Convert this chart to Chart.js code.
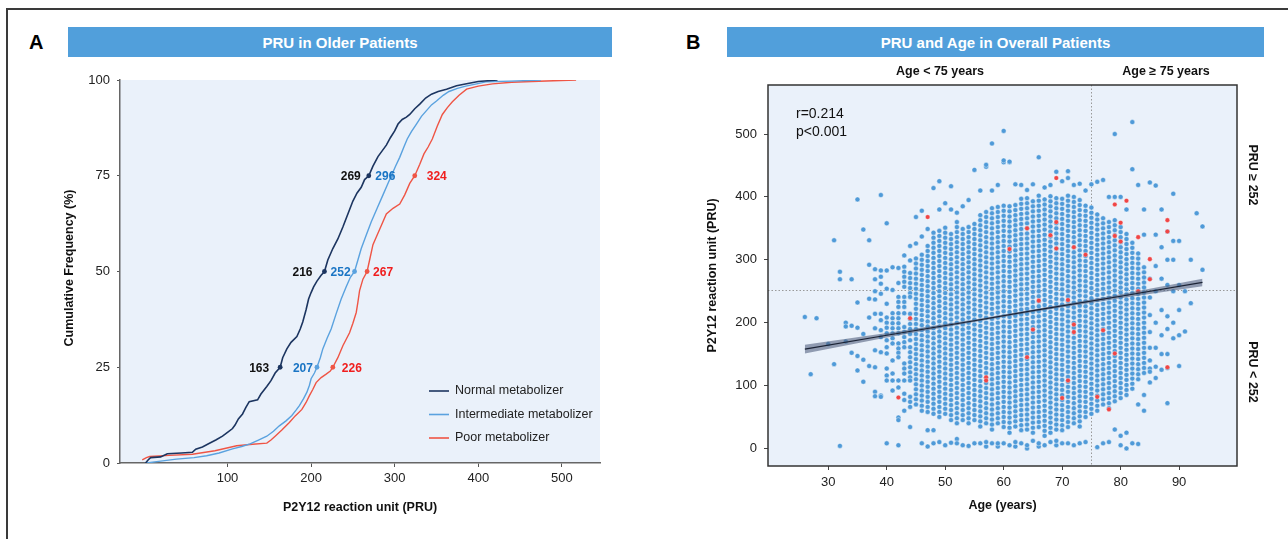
<!DOCTYPE html>
<html>
<head>
<meta charset="utf-8">
<script src="https://cdn.jsdelivr.net/npm/chart.js@4.4.1/dist/chart.umd.min.js"></script>
<style>
  body { margin: 0; background: #fff; font-family: "Liberation Sans", Arial, sans-serif; }
  #page { position: relative; width: 1288px; height: 539px; overflow: hidden; background: #fff; }
  .frameTop { position: absolute; left: 6px; top: 8px; width: 1282px; height: 2px; background: #3a3a3a; }
  .frameLeft { position: absolute; left: 6px; top: 8px; width: 2px; height: 531px; background: #3a3a3a; }
  .bar { position: absolute; top: 27px; height: 30px; background: #519FDB; color: #fff; font-weight: bold;
         font-size: 15px; line-height: 31px; text-align: center; }
  .letter { position: absolute; top: 31px; font-weight: bold; font-size: 20px; color: #000; }
  canvas { position: absolute; top: 0; }
</style>
</head>
<body>
<div id="page">
  <div class="frameTop"></div>
  <div class="frameLeft"></div>
  <div class="letter" style="left:29px">A</div>
  <div class="bar" style="left:68px;width:544px">PRU in Older Patients</div>
  <div class="letter" style="left:686px">B</div>
  <div class="bar" style="left:727px;width:537px">PRU and Age in Overall Patients</div>
  <canvas id="chartA" width="640" height="539" style="left:0"></canvas>
  <canvas id="chartB" width="648" height="539" style="left:640px"></canvas>
</div>
<script>
// ---------- Panel A: cumulative frequency of PRU (older patients) ----------
const normalPru = [2, 5, 8, 20, 28, 45, 58, 62, 70, 79, 86, 94, 100, 106, 109, 113, 118, 122, 126, 136, 140, 147, 152, 157, 163, 166, 171, 176, 183, 187, 190, 194, 197, 200, 203, 207, 212, 216, 220, 226, 232, 238, 244, 250, 255, 260, 264, 269, 274, 280, 285, 290, 295, 300, 304, 309, 314, 318, 324, 330, 337, 344, 352, 362, 374, 386, 400, 423];
const normalPct = [0, 0.8, 1.4, 1.6, 2.4, 2.6, 2.8, 3.6, 4.2, 5.2, 6, 7, 8, 9, 9.9, 11.5, 12.8, 14.5, 16, 16.5, 18, 20, 21.5, 23.5, 25, 27.5, 29.8, 31.5, 33, 35, 36.8, 40, 42.8, 44.5, 46, 47.5, 49, 50, 53, 56, 58.5, 61.6, 65, 68.4, 70.5, 72, 74, 75, 77.5, 80, 81.5, 83, 85, 86.7, 88.5, 89.7, 90.3, 91, 92.5, 93.7, 95.3, 96.3, 97, 97.6, 98.5, 99, 99.6, 100];
const intermPru = [3, 20, 39, 60, 75, 90, 106, 117, 127, 137, 147, 155, 162, 170, 177, 182, 186, 191, 195, 198, 200, 204, 207, 211, 214, 219, 224, 230, 236, 242, 247, 252, 256, 260, 266, 272, 279, 286, 291, 296, 301, 306, 311, 315, 320, 326, 332, 338, 344, 350, 358, 365, 375, 385, 398, 409, 440, 475];
const intermPct = [0, 0.5, 1, 1.4, 1.9, 2.6, 3.7, 4.3, 5, 6, 7, 8.3, 9.7, 11, 12.4, 13.8, 15, 16.8, 18.5, 20.3, 22, 23.5, 25, 27.5, 29.8, 32.5, 35, 39, 42.8, 46, 48.5, 50, 53, 56, 59.5, 63, 66.5, 70, 72.5, 75, 77.5, 79.8, 82.5, 84.6, 86.5, 88.5, 90.5, 92, 93.5, 94.5, 96, 97, 97.8, 98.4, 99, 99.5, 99.7, 100];
const poorPru = [-2, 3, 7, 30, 58, 85, 111, 130, 147, 152, 157, 165, 174, 181, 189, 194, 198, 202, 206, 212, 218, 223, 226, 232, 238, 242, 246, 250, 254, 256, 258, 262, 267, 270, 274, 278, 284, 290, 298, 306, 312, 318, 324, 330, 335, 340, 345, 351, 357, 363, 369, 377, 386, 400, 417, 440, 464, 490, 517];
const poorPct = [0.8, 1.4, 1.7, 2, 2.3, 3.2, 4.5, 4.9, 5.2, 6, 7, 8.6, 10.6, 12.3, 14, 15.8, 17.6, 19.2, 21, 22.3, 23.2, 24, 25, 27.5, 30.6, 32.3, 34, 36.5, 39.3, 42, 45, 48, 50, 53, 57, 59, 62, 65, 66.5, 67.6, 70, 73, 75, 78, 80.7, 82.5, 84.6, 88, 91, 92.8, 94.3, 96, 97.6, 98.4, 99, 99.4, 99.6, 99.8, 100];

const quartilePct = [25, 50, 75];
const normalQuartiles = [163, 216, 269];
const intermQuartiles = [207, 252, 296];
const poorQuartiles = [226, 267, 324];

const freqTicks = [0, 25, 50, 75, 100];
const pruAxisTicks = [100, 200, 300, 400, 500];
const groupNames = ['Normal metabolizer', 'Intermediate metabolizer', 'Poor metabolizer'];

// ---------- Panel B: PRU by age, all patients ----------
const ageTicks = [30, 40, 50, 60, 70, 80, 90];
const pruTicks = [0, 100, 200, 300, 400, 500];
const ageCut = 75;
const pruCut = 252;

const scatterAges = [26, 27, 28, 30, 31, 32, 33, 34, 35, 36, 37, 38, 39, 40, 41, 42, 43, 44, 45, 46, 47, 48, 49, 50,
  51, 52, 53, 54, 55, 56, 57, 58, 59, 60, 61, 62, 63, 64, 65, 66, 67, 68, 69, 70, 71, 72, 73, 74, 75, 76, 77, 78,
  79, 80, 81, 82, 83, 84, 85, 86, 87, 88, 89, 90, 91, 92, 93, 94];
const scatterPru = [
  "209",
  "118",
  "207",
  "166",
  "331 134",
  "281 269 4",
  "200 194 170",
  "269 195 152",
  "396 232 192 147 124",
  "348 182 141 106",
  "331 292 238 208 131",
  "285 269 250 237 214 191 156 129 90 83",
  "403 283 273 262 246 214 204 188 177 153 84 82",
  "358 283 254 230 208 200 192 183 172 161 151 127 116 108 8",
  "288 252 215 207 199 191 183 175 167 140 119 108 92",
  "287 263 241 233 225 215 207 199 191 183 167 159 152 145 108 97 49 45 5",
  "307 289 281 273 265 257 241 233 225 215 193 185 177 169 161 135 127 119 108 87 77 60",
  "322 299 279 271 263 255 247 241 214 206 198 190 182 172 161 153 145 137 129 121 113 108 82 74 66 34",
  "368 326 302 294 286 278 270 262 254 246 238 230 222 214 206 198 190 182 174 166 158 150 142 134 126 118 110 102 94 86 78 70",
  "378 337 308 300 292 284 276 268 260 252 244 236 228 220 212 204 196 188 180 172 164 156 148 140 132 124 116 108 100 92 84 76 68 60 8",
  "349 322 314 306 298 290 282 274 266 258 250 242 234 226 218 210 202 194 186 178 170 162 154 146 138 130 122 114 106 98 90 82 74 66 58 29 3",
  "414 343 335 327 319 311 303 295 287 279 271 263 255 247 239 231 223 215 207 199 191 183 175 167 159 151 143 135 127 119 111 103 95 87 79 71 63 55 29 8",
  "425 380 346 338 330 322 314 306 298 290 282 274 266 258 250 242 234 226 218 210 202 194 186 178 170 162 154 146 138 130 122 114 106 98 90 82 74 66 58 50 10",
  "390 351 343 335 327 319 311 303 295 287 279 271 263 255 247 239 231 223 215 207 199 191 183 175 167 159 151 143 135 127 119 111 103 95 87 79 71 63 55 5",
  "417 380 341 333 325 317 309 301 293 285 277 269 261 253 245 237 229 221 213 205 197 189 181 173 165 157 149 141 133 125 117 109 101 93 85 77 69 61 53 45 9",
  "375 360 352 344 336 328 320 312 304 296 288 280 272 264 256 248 240 232 224 216 208 200 192 184 176 168 160 152 144 136 128 120 112 104 96 88 80 72 64 56 48 40 15 8",
  "385 349 341 333 325 317 309 301 293 285 277 269 261 253 245 237 229 221 213 205 197 189 181 173 165 157 149 141 133 125 117 109 101 93 85 77 69 61 53 45 5",
  "4 40 48 56 64 72 80 88 96 104 112 120 128 136 144 152 160 168 176 184 192 200 208 216 224 232 240 248 256 264 272 280 288 296 304 312 320 328 336 344 352 395",
  "8 45 53 61 69 77 85 93 101 109 117 125 133 141 149 157 165 173 181 189 197 205 213 221 229 237 245 253 261 269 277 285 293 301 309 317 325 333 341 349 357 443",
  "8 35 43 51 59 67 75 83 91 99 107 115 123 131 139 147 155 163 171 179 187 195 203 211 219 227 235 243 251 259 267 275 283 291 299 307 315 323 331 339 347 355 363 371 410",
  "3 10 40 48 56 64 72 80 88 96 104 112 120 128 136 144 152 160 168 176 184 192 200 208 216 224 232 240 248 256 264 272 280 288 296 304 312 320 328 336 344 352 360 368 376 448 451",
  "8 30 38 46 54 62 70 78 86 94 102 110 118 126 134 142 150 158 166 174 182 190 198 206 214 222 230 238 246 254 262 270 278 286 294 302 310 318 326 334 342 350 358 366 374 382 410 485",
  "3 8 40 48 56 64 72 80 88 96 104 112 120 128 136 144 152 160 168 176 184 192 200 208 216 224 232 240 248 256 264 272 280 288 296 304 312 320 328 336 344 352 360 368 376 384 419",
  "8 34 42 50 58 66 74 82 90 98 106 114 122 130 138 146 154 162 170 178 186 194 202 210 218 226 234 242 250 258 266 274 282 290 298 306 314 322 330 338 346 354 362 370 378 386 455 458 505",
  "5 25 33 41 49 57 65 73 81 89 97 105 113 121 129 137 145 153 161 169 177 185 193 201 209 217 225 233 241 249 257 265 273 281 289 297 305 313 321 329 337 345 353 361 369 377 385 455 456",
  "3 10 35 43 51 59 67 75 83 91 99 107 115 123 131 139 147 155 163 171 179 187 195 203 211 219 227 235 243 251 259 267 275 283 291 299 307 315 323 331 339 347 355 363 371 379 387 420",
  "8 29 37 45 53 61 69 77 85 93 101 109 117 125 133 141 149 157 165 173 181 189 197 205 213 221 229 237 245 253 261 269 277 285 293 301 309 317 325 333 341 349 357 365 373 381 389 397 419",
  "0 5 30 38 46 54 62 70 78 86 94 102 110 118 126 134 142 150 158 166 174 182 190 198 206 214 222 230 238 246 254 262 270 278 286 294 302 310 318 326 334 342 350 358 366 374 382 390 398 411",
  "12 25 33 41 49 57 65 73 81 89 97 105 113 121 129 137 145 153 161 169 177 185 193 201 209 217 225 233 241 249 257 265 273 281 289 297 305 313 321 329 337 345 353 361 369 377 385 393 420",
  "3 8 34 42 50 58 66 74 82 90 98 106 114 122 130 138 146 154 162 170 178 186 194 202 210 218 226 234 242 250 258 266 274 282 290 298 306 314 322 330 338 346 354 362 370 378 386 394 402 463",
  "5 20 28 36 44 52 60 68 76 84 92 100 108 116 124 132 140 148 156 164 172 180 188 196 204 212 220 228 236 244 252 260 268 276 284 292 300 308 316 324 332 340 348 356 364 372 380 388 396 415",
  "10 25 33 41 49 57 65 73 81 89 97 105 113 121 129 137 145 153 161 169 177 185 193 201 209 217 225 233 241 249 257 265 273 281 289 297 305 313 321 329 337 345 353 361 369 377 385 393 401 419",
  "5 12 30 38 46 54 62 70 78 86 94 102 110 118 126 134 142 150 158 166 174 182 190 198 206 214 222 230 238 246 254 262 270 278 286 294 302 310 318 326 334 342 350 358 366 374 382 390 398 440",
  "8 29 37 45 53 61 69 77 85 93 101 109 117 125 133 141 149 157 165 173 181 189 197 205 213 221 229 237 245 253 261 269 277 285 293 301 309 317 325 333 341 349 357 365 373 381 389 397 425",
  "8 34 42 50 58 66 74 82 90 98 106 114 122 130 138 146 154 162 170 178 186 194 202 210 218 226 234 242 250 258 266 274 282 290 298 306 314 322 330 338 346 354 362 370 378 386 394 402 430 441",
  "5 40 48 56 64 72 80 88 96 104 112 120 128 136 144 152 160 168 176 184 192 200 208 216 224 232 240 248 256 264 272 280 288 296 304 312 320 328 336 344 352 360 368 376 384 392 400 419",
  "8 35 43 51 59 67 75 83 91 99 107 115 123 131 139 147 155 163 171 179 187 195 203 211 219 227 235 243 251 259 267 275 283 291 299 307 315 323 331 339 347 355 363 371 379 387 395 421",
  "10 50 58 66 74 82 90 98 106 114 122 130 138 146 154 162 170 178 186 194 202 210 218 226 234 242 250 258 266 274 282 290 298 306 314 322 330 338 346 354 362 370 378 386 410",
  "55 63 71 79 87 95 103 111 119 127 135 143 151 159 167 175 183 191 199 207 215 223 231 239 247 255 263 271 279 287 295 303 311 319 327 335 343 351 359 367 375 383 420",
  "2 60 68 76 84 92 100 108 116 124 132 140 148 156 164 172 180 188 196 204 212 220 228 236 244 252 260 268 276 284 292 300 308 316 324 332 340 348 356 364 372 424",
  "8 70 78 86 94 102 110 118 126 134 142 150 158 166 174 182 190 198 206 214 222 230 238 246 254 262 270 278 286 294 302 310 318 326 334 342 350 358 366 427",
  "10 64 72 80 88 96 104 112 120 128 136 144 152 160 168 176 184 192 200 208 216 224 232 240 248 256 264 272 280 288 296 304 312 320 328 336 344 352 360 400",
  "30 75 83 91 99 107 115 123 131 139 147 155 163 171 179 187 195 203 211 219 227 235 243 251 259 267 275 283 291 299 307 315 323 331 339 347 355 363 400 500",
  "5 20 80 88 96 104 112 120 128 136 144 152 160 168 176 184 192 200 208 216 224 232 240 248 256 264 272 280 288 296 304 312 320 328 336 344 352 400",
  "0 25 85 93 101 109 117 125 133 141 149 157 165 173 181 189 197 205 213 221 229 237 245 253 261 269 277 285 293 301 309 317 325 333 341 380",
  "8 95 103 111 119 127 135 143 151 159 167 175 183 191 199 207 215 223 231 239 247 255 263 271 279 287 295 303 311 319 327 444 519",
  "7 70 110 118 126 134 142 150 158 166 174 182 190 198 206 214 222 230 238 246 254 262 270 278 286 294 302 310 419",
  "60 85 120 128 136 144 152 160 168 176 184 192 200 208 216 224 232 240 248 256 264 272 280 288 340 380",
  "423 270 240 212 185 160 140 127 122 105",
  "418 340 290 250 200 160 130 112",
  "380 320 270 220 180 150 125",
  "345 300 260 210 190 150 128 72",
  "405 330 300 250 200 175",
  "330 260 220 180 131",
  "250 186",
  "300 231",
  "374",
  "353 284"
];

// red highlighted patients
const highlightAges = [47, 69, 64, 69, 68, 69, 72, 74, 61, 79, 81, 80, 79, 80, 83, 88, 88, 85, 85, 83, 66, 71, 44, 65, 72, 72, 77, 79, 64, 57, 57, 71, 42, 70, 76, 78, 88];
const highlightPru = [368, 430, 350, 360, 339, 318, 320, 308, 317, 388, 394, 359, 338, 329, 336, 363, 345, 301, 269, 250, 235, 236, 207, 189, 197, 185, 188, 151, 145, 113, 108, 108, 81, 80, 82, 62, 129];

// linear fit with confidence band
const fitAges = [26, 40, 55, 65, 80, 94];
const fitPru = [158, 180, 203, 219, 242, 264];
const fitLower = [151, 176.5, 201, 217, 239, 258];
const fitUpper = [165, 183.5, 205, 221, 245, 270];

// ---------- helpers ----------
Chart.defaults.font.family = '"Liberation Sans", Arial, sans-serif';
Chart.defaults.color = '#222';

function toPoints(xs, ys) { return xs.map((x, i) => ({ x: x, y: ys[i] })); }
function parseList(s) { return s.trim().split(/\s+/).map(Number); }

const scatterPoints = [];
scatterAges.forEach((age, i) => {
  parseList(scatterPru[i]).forEach(v => scatterPoints.push({ x: age, y: v }));
});

const colNormal = '#1C3560', colInterm = '#5AA2DF', colPoor = '#EF5545';
const txtNormal = '#111111', txtInterm = '#1A75C4', txtPoor = '#F01E1E';

function tickScale(values) {
  return s => { s.ticks = values.map(v => ({ value: v })); };
}

// ---------- Panel A ----------
const panelADecor = {
  id: 'panelADecor',
  beforeDraw(chart) {
    const { ctx, chartArea: a } = chart;
    ctx.save();
    ctx.fillStyle = '#EAF1FA';
    ctx.fillRect(a.left, a.top, a.right - a.left, a.bottom - a.top);
    ctx.restore();
  },
  afterDatasetsDraw(chart) {
    const { ctx, chartArea: a, scales: { x, y } } = chart;
    ctx.save();
    // quartile labels
    ctx.font = 'bold 12px "Liberation Sans", Arial, sans-serif';
    ctx.textAlign = 'center';
    ctx.textBaseline = 'middle';
    const groups = [
      { q: normalQuartiles, color: txtNormal, dx: [-21, -22, -18] },
      { q: intermQuartiles, color: txtInterm, dx: [-14, -14, -6] },
      { q: poorQuartiles, color: txtPoor, dx: [19, 16, 22] }
    ];
    groups.forEach(g => {
      ctx.fillStyle = g.color;
      g.q.forEach((v, i) => {
        ctx.fillText(String(v), x.getPixelForValue(v) + g.dx[i], y.getPixelForValue(quartilePct[i]) + 1);
      });
    });
    // legend inside the plot
    const legendColors = [colNormal, colInterm, colPoor];
    ctx.font = '12.5px "Liberation Sans", Arial, sans-serif';
    ctx.textAlign = 'left';
    groupNames.forEach((name, i) => {
      const ly = 391 + i * 23.5;
      ctx.strokeStyle = legendColors[i];
      ctx.lineWidth = 1.6;
      ctx.beginPath(); ctx.moveTo(429, ly); ctx.lineTo(449, ly); ctx.stroke();
      ctx.fillStyle = '#222';
      ctx.fillText(name, 455, ly);
    });
    // axis titles
    ctx.fillStyle = '#111';
    ctx.font = 'bold 12.5px "Liberation Sans", Arial, sans-serif';
    ctx.textAlign = 'center';
    ctx.fillText('P2Y12 reaction unit (PRU)', (a.left + a.right) / 2, 508);
    ctx.translate(70, 268);
    ctx.rotate(-Math.PI / 2);
    ctx.fillText('Cumulative Frequency (%)', 0, 0);
    ctx.restore();
  }
};

function ecdfLine(xs, ys, color, width) {
  return { data: toPoints(xs, ys), showLine: true, borderColor: color, borderWidth: width,
           pointRadius: 0, tension: 0, fill: false };
}
function quartileDots(qs, color) {
  return { data: toPoints(qs, quartilePct), showLine: false, pointRadius: 2.4,
           backgroundColor: color, borderWidth: 0 };
}

new Chart(document.getElementById('chartA'), {
  type: 'scatter',
  data: {
    datasets: [
      quartileDots(normalQuartiles, colNormal),
      quartileDots(intermQuartiles, colInterm),
      quartileDots(poorQuartiles, colPoor),
      ecdfLine(normalPru, normalPct, colNormal, 1.6),
      ecdfLine(intermPru, intermPct, colInterm, 1.4),
      ecdfLine(poorPru, poorPct, colPoor, 1.4)
    ]
  },
  options: {
    responsive: false,
    animation: false,
    events: [],
    layout: { padding: { top: 80, right: 40, left: 0, bottom: 0 } },
    plugins: { legend: { display: false }, tooltip: { enabled: false } },
    scales: {
      x: {
        type: 'linear', min: -28.6, max: 545.6,
        afterBuildTicks: tickScale(pruAxisTicks),
        afterFit: s => { s.height = 76; },
        grid: { display: true, drawOnChartArea: false, drawTicks: true, tickLength: 4, color: '#555' },
        border: { display: true, color: '#666', width: 1.5 },
        ticks: { font: { size: 13 }, color: '#222', padding: 4, maxRotation: 0 }
      },
      y: {
        type: 'linear', min: 0, max: 100,
        afterBuildTicks: tickScale(freqTicks),
        afterFit: s => { s.width = 120; },
        grid: { display: true, drawOnChartArea: false, drawTicks: true, tickLength: 3, color: '#555' },
        border: { display: true, color: '#666', width: 1.5 },
        ticks: { font: { size: 13 }, color: '#222', padding: 7 }
      }
    }
  },
  plugins: [panelADecor]
});

// ---------- Panel B ----------
const panelBDecor = {
  id: 'panelBDecor',
  beforeDraw(chart) {
    const { ctx, chartArea: a } = chart;
    ctx.save();
    ctx.fillStyle = '#EAF1FA';
    ctx.fillRect(a.left, a.top, a.right - a.left, a.bottom - a.top);
    ctx.restore();
  },
  beforeDatasetsDraw(chart) {
    const { ctx, chartArea: a, scales: { x, y } } = chart;
    ctx.save();
    ctx.strokeStyle = '#999';
    ctx.lineWidth = 1;
    ctx.setLineDash([1.5, 2]);
    const vx = Math.round(x.getPixelForValue(ageCut)) + 0.5;
    const hy = Math.round(y.getPixelForValue(pruCut)) + 0.5;
    ctx.beginPath();
    ctx.moveTo(vx, a.top); ctx.lineTo(vx, a.bottom);
    ctx.moveTo(a.left, hy); ctx.lineTo(a.right, hy);
    ctx.stroke();
    ctx.restore();
  },
  afterDatasetsDraw(chart) {
    const { ctx, chartArea: a } = chart;
    ctx.save();
    ctx.strokeStyle = '#333';
    ctx.lineWidth = 1.5;
    ctx.strokeRect(a.left, a.top, a.right - a.left, a.bottom - a.top);

    ctx.fillStyle = '#111';
    ctx.font = '14px "Liberation Sans", Arial, sans-serif';
    ctx.textAlign = 'left';
    ctx.textBaseline = 'middle';
    ctx.fillText('r=0.214', a.left + 28, 114);
    ctx.fillText('p<0.001', a.left + 28, 132);

    ctx.font = 'bold 12.5px "Liberation Sans", Arial, sans-serif';
    ctx.textAlign = 'center';
    ctx.fillText('Age < 75 years', 300, 72);
    ctx.fillText('Age \u2265 75 years', 526, 72);
    ctx.fillText('Age (years)', (a.left + a.right) / 2, 506);

    ctx.save();
    ctx.translate(73, (a.top + a.bottom) / 2);
    ctx.rotate(-Math.PI / 2);
    ctx.fillText('P2Y12 reaction unit (PRU)', 0, 0);
    ctx.restore();

    ctx.save();
    ctx.translate(612, 175);
    ctx.rotate(Math.PI / 2);
    ctx.fillText('PRU \u2265 252', 0, 0);
    ctx.restore();
    ctx.save();
    ctx.translate(612, 372);
    ctx.rotate(Math.PI / 2);
    ctx.fillText('PRU < 252', 0, 0);
    ctx.restore();
    ctx.restore();
  }
};

new Chart(document.getElementById('chartB'), {
  type: 'scatter',
  data: {
    datasets: [
      { data: scatterPoints, pointRadius: 2.5, backgroundColor: '#4F9AD8',
        borderColor: 'rgba(255,255,255,0.7)', borderWidth: 0.6, order: 4 },
      { data: toPoints(highlightAges, highlightPru), pointRadius: 2.3, backgroundColor: '#F04545',
        borderColor: 'rgba(255,255,255,0.6)', borderWidth: 0.5, order: 3 },
      { data: toPoints(fitAges, fitLower), showLine: true, pointRadius: 0, borderWidth: 0,
        borderColor: 'rgba(0,0,0,0)', order: 2 },
      { data: toPoints(fitAges, fitUpper), showLine: true, pointRadius: 0, borderWidth: 0,
        borderColor: 'rgba(0,0,0,0)', backgroundColor: 'rgba(84,98,128,0.6)', fill: '-1', order: 2 },
      { data: toPoints(fitAges, fitPru), showLine: true, pointRadius: 0, borderWidth: 1.2,
        borderColor: '#1B2335', order: 0 }
    ]
  },
  options: {
    responsive: false,
    animation: false,
    events: [],
    layout: { padding: { top: 85, right: 51, left: 0, bottom: 0 } },
    plugins: { legend: { display: false }, tooltip: { enabled: false } },
    scales: {
      x: {
        type: 'linear', min: 19.7, max: 99.9,
        afterBuildTicks: tickScale(ageTicks),
        afterFit: s => { s.height = 73; },
        grid: { display: true, drawOnChartArea: false, drawTicks: true, tickLength: 4, color: '#444' },
        border: { display: false },
        ticks: { font: { size: 13 }, color: '#222', padding: 5, maxRotation: 0 }
      },
      y: {
        type: 'linear', min: -28, max: 578,
        afterBuildTicks: tickScale(pruTicks),
        afterFit: s => { s.width = 128; },
        grid: { display: true, drawOnChartArea: false, drawTicks: true, tickLength: 4, color: '#444' },
        border: { display: false },
        ticks: { font: { size: 13 }, color: '#222', padding: 7 }
      }
    }
  },
  plugins: [panelBDecor]
});
</script>
</body>
</html>
